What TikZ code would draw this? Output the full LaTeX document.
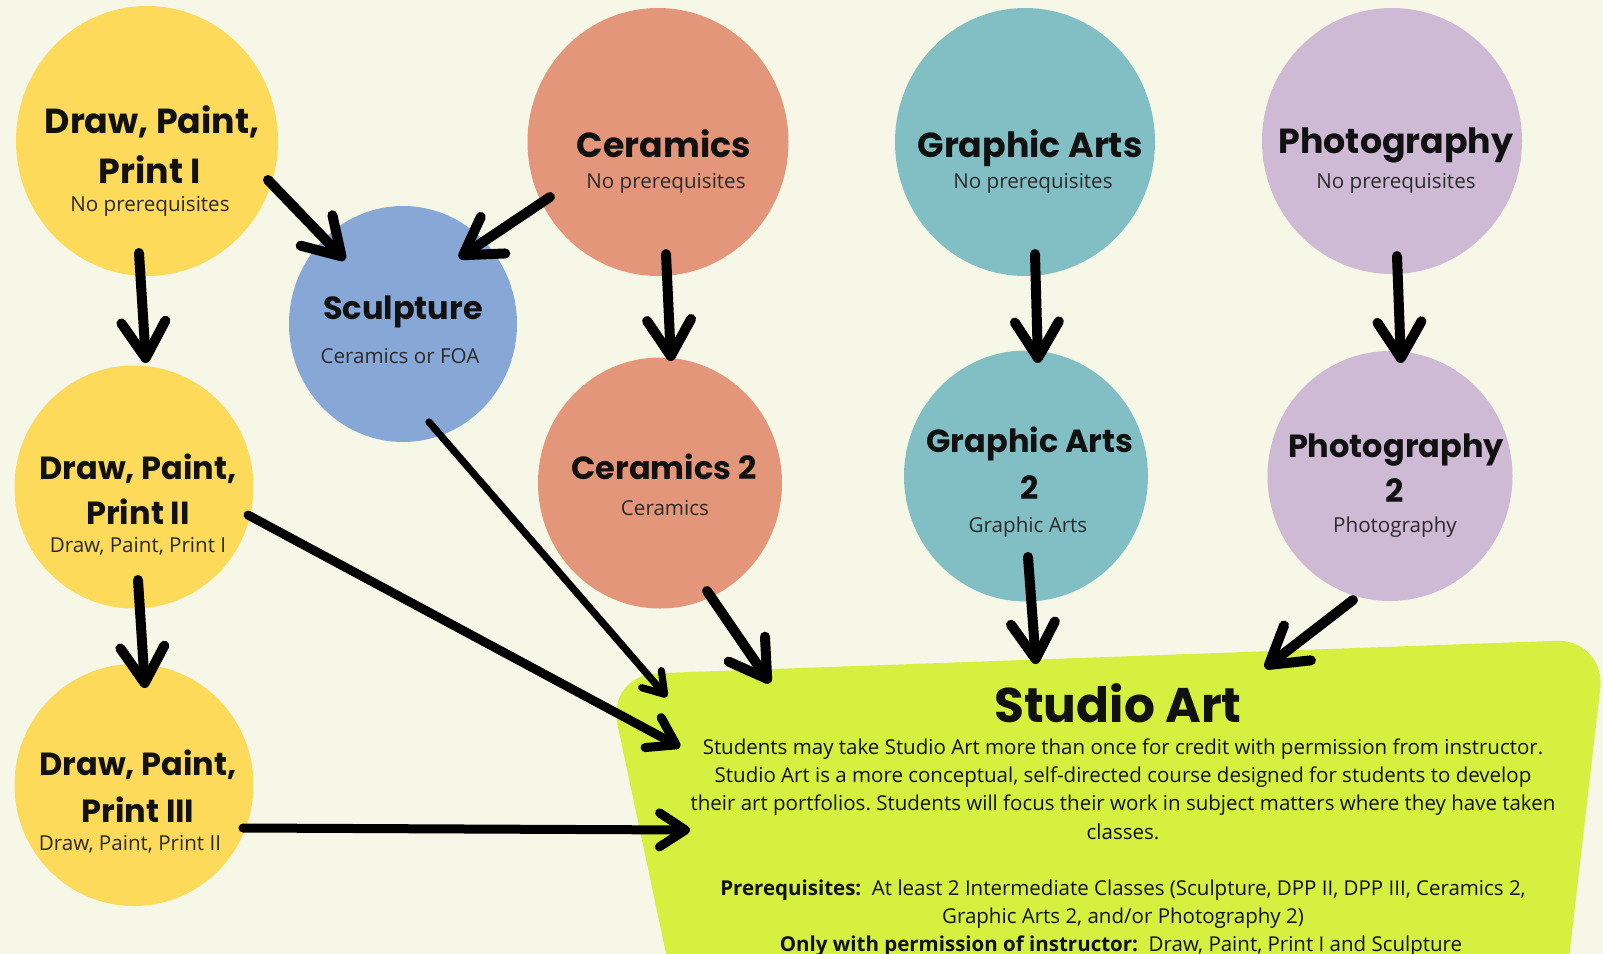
\documentclass[tikz,border=0pt]{standalone}
\usepackage{fontspec}
\setmainfont{Open Sans}
\newfontfamily\popfont{Poppins}
\usetikzlibrary{shapes.geometric,arrows.meta,calc}
\definecolor{bgc}{HTML}{F6F7E6}
\definecolor{cyel}{HTML}{FDDA5A}
\definecolor{csal}{HTML}{E3967A}
\definecolor{cblu}{HTML}{87A8D6}
\definecolor{cteal}{HTML}{82BFC4}
\definecolor{clil}{HTML}{CEBAD4}
\definecolor{clime}{HTML}{D5F03E}
\definecolor{ink}{HTML}{111111}
\definecolor{inksub}{HTML}{2A2A2A}
\begin{document}
\frenchspacing
\begin{tikzpicture}[x=0.5pt,y=-0.5pt,
  blob/.style={ellipse,inner sep=0pt,draw=none},
  ttla/.style={font=\popfont\bfseries\fontsize{17.4}{20}\selectfont,text=ink,inner sep=0pt,anchor=base},
  ttlb/.style={font=\popfont\bfseries\fontsize{16}{19}\selectfont,text=ink,inner sep=0pt,anchor=base},
  subt/.style={font=\fontsize{10.3}{12}\selectfont,text=inksub,inner sep=0pt,anchor=base},
  bodyt/.style={font=\fontsize{10.25}{14}\selectfont,text=ink,inner sep=0pt,anchor=base},
  arrbig/.style={draw=black,line width=5pt,line cap=round,-{Straight Barb[length=18pt,width=22pt,round]}},
  arrmid/.style={draw=black,line width=4.5pt,line cap=round,-{Straight Barb[length=13pt,width=17pt,round]}},
  arrthin/.style={draw=black,line width=3.6pt,line cap=round,-{Straight Barb[length=10pt,width=13pt,round]}}
]
\useasboundingbox (0,0) rectangle (1603,954);
\fill[bgc] (0,0) rectangle (1603,954);
\clip (0,0) rectangle (1603,954);

% Studio Art panel
\fill[clime,rounded corners=25pt] (607,675) -- (1606,639) -- (1563,1010) -- (678,1010) -- cycle;
\coordinate (studio) at (1123,800);

% circles
\node[blob,fill=cyel,minimum width=131pt,minimum height=135pt] (dpp1) at (147,141) {};
\node[blob,fill=csal,minimum width=130.5pt,minimum height=134pt] (cer) at (658,142) {};
\node[blob,fill=cteal,minimum width=130pt,minimum height=134pt] (ga) at (1025,142) {};
\node[blob,fill=clil,minimum width=130pt,minimum height=133pt] (ph) at (1392,141) {};
\node[blob,fill=cblu,minimum width=114pt,minimum height=118pt] (sculp) at (403,324) {};
\node[blob,fill=cyel,minimum width=119.5pt,minimum height=121.5pt] (dpp2) at (134,487) {};
\node[blob,fill=cyel,minimum width=119.5pt,minimum height=121pt] (dpp3) at (134,785) {};
\node[blob,fill=csal,minimum width=122pt,minimum height=125.5pt] (cer2) at (660,483) {};
\node[blob,fill=cteal,minimum width=122pt,minimum height=125.5pt] (ga2) at (1026,476) {};
\node[blob,fill=clil,minimum width=122.5pt,minimum height=125pt] (ph2) at (1390,476) {};

% texts
\node[ttla] (dpp1a) at (152,133) {Draw, Paint,};
\node[ttla] (dpp1b) at (150,183) {Print I};
\node[subt] (dpp1c) at (150,211) {No prerequisites};

\node[ttla] (cera) at (664,157) {Ceramics};
\node[subt] (cerb) at (666,188) {No prerequisites};

\node[ttla] (gaa) at (1030,157) {Graphic Arts};
\node[subt] (gab) at (1033,188) {No prerequisites};

\node[ttla] (pha) at (1396,153) {Photography};
\node[subt] (phb) at (1396,188) {No prerequisites};

\node[ttlb] (sculpa) at (403,319) {Sculpture};
\node[subt] (sculpb) at (400,363) {Ceramics or FOA};

\node[ttlb] (dpp2a) at (138,479) {Draw, Paint,};
\node[ttlb] (dpp2b) at (138,524) {Print II};
\node[subt] (dpp2c) at (138,552) {Draw, Paint, Print I};

\node[ttlb] (dpp3a) at (138,775) {Draw, Paint,};
\node[ttlb] (dpp3b) at (138,822) {Print III};
\node[subt] (dpp3c) at (130,850) {Draw, Paint, Print II};

\node[ttlb] (cer2a) at (664,479) {Ceramics 2};
\node[subt] (cer2b) at (665,515) {Ceramics};

\node[ttlb] (ga2a) at (1030,452) {Graphic Arts};
\node[ttlb] (ga2b) at (1030,499) {2};
\node[subt] (ga2c) at (1028,532) {Graphic Arts};

\node[ttlb] (ph2a) at (1396,457) {Photography};
\node[ttlb] (ph2b) at (1395,502) {2};
\node[subt] (ph2c) at (1395,532) {Photography};

\node[font=\popfont\bfseries\fontsize{24.3}{28}\selectfont,text=ink,inner sep=0pt,anchor=base] (studiot) at (1118,722) {Studio Art};
\node[bodyt] (s1) at (1123,754) {Students may take Studio Art more than once for credit with permission from instructor.};
\node[bodyt] (s2) at (1123,782) {Studio Art is a more conceptual, self-directed course designed for students to develop};
\node[bodyt] (s3) at (1123,810) {their art portfolios. Students will focus their work in subject matters where they have taken};
\node[bodyt] (s4) at (1123,839) {classes.};
\node[bodyt] (s5) at (1123,895) {\textbf{Prerequisites:}\ \ At least 2 Intermediate Classes (Sculpture, DPP II, DPP III, Ceramics 2,};
\node[bodyt] (s6) at (1123,923) {Graphic Arts 2, and/or Photography 2)};
\node[bodyt] (s7) at (1121,951) {\textbf{Only with permission of instructor:}\ \ Draw, Paint, Print I and Sculpture};

% arrows
\draw[arrbig] ($(dpp1)+(121,39)$) -- ($(sculp)+(-58,-64)$);
\draw[arrbig] ($(cer)+(-108,55)$) -- ($(sculp)+(56,-66)$);
\draw[arrbig] ($(dpp1)+(-8,112)$) -- ($(dpp2)+(12,-124)$);
\draw[arrbig] ($(cer)+(8,112)$) -- ($(cer2)+(11,-122)$);
\draw[arrbig] ($(ga)+(10,112)$) -- ($(ga2)+(12,-113)$);
\draw[arrbig] ($(ph)+(5,115)$) -- ($(ph2)+(11,-113)$);
\draw[arrbig] ($(dpp2)+(4,93)$) -- ($(dpp3)+(11,-97)$);
\draw[arrthin] ($(sculp)+(26,98)$) -- ($(studio)+(-456,-103)$);
\draw[arrmid] ($(dpp2)+(114,28)$) -- ($(studio)+(-443,-53)$);
\draw[arrmid] ($(dpp3)+(109,43)$) -- ($(studio)+(-433,30)$);
\draw[arrbig] ($(cer2)+(47,108)$) -- ($(studio)+(-353,-117)$);
\draw[arrbig] ($(ga2)+(2,81)$) -- ($(studio)+(-87,-136)$);
\draw[arrbig] ($(ph2)+(-37,124)$) -- ($(studio)+(142,-132)$);
\end{tikzpicture}
\end{document}
